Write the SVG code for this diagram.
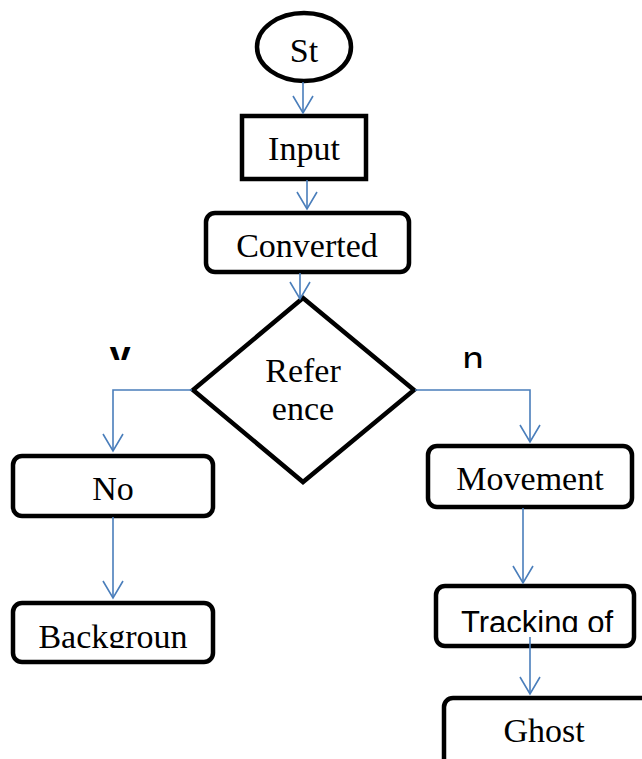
<svg xmlns="http://www.w3.org/2000/svg" width="642" height="759" viewBox="0 0 642 759">
<style>
.box{fill:#fff;stroke:#000;stroke-width:4.5}
.t{font-family:"Liberation Serif","Times New Roman",serif;font-size:34px;fill:#000;text-anchor:middle}
.s{font-family:"Liberation Sans",Arial,sans-serif;font-size:31px;fill:#000;text-anchor:middle}
.l{font-family:"Liberation Sans",Arial,sans-serif;font-size:38px;fill:#000;text-anchor:middle}
.c{fill:none;stroke:#4a7ebb;stroke-width:1.6}
</style>
<defs>
<marker id="ah" markerUnits="userSpaceOnUse" markerWidth="24" markerHeight="24" viewBox="-20 -12 22 24" refX="0" refY="0" orient="auto">
<path d="M -17 -10 L 0 0 L -17 10" fill="none" stroke="#4a7ebb" stroke-width="1.6"/>
</marker>
<clipPath id="cpBg"><rect x="0" y="600" width="240" height="48"/></clipPath>
<clipPath id="cpTr"><rect x="430" y="580" width="212" height="52"/></clipPath>
<clipPath id="cpY"><rect x="90" y="330" width="60" height="30"/></clipPath>
<clipPath id="cpN"><rect x="440" y="330" width="60" height="38"/></clipPath>
</defs>
<g id="start"><ellipse class="box" cx="304" cy="47" rx="47" ry="34"/><text class="t" x="304" y="62">St</text></g>
<g id="input"><rect class="box" x="242" y="116" width="124" height="63"/><text class="t" x="304" y="160">Input</text></g>
<g id="converted"><rect class="box" x="206" y="213" width="203" height="59" rx="9"/><text class="t" x="307" y="257">Converted</text></g>
<g id="reference"><polygon class="box" points="303,298 414,390 303,482 193,390"/><text class="t" x="303" y="382">Refer</text><text class="t" x="303" y="420">ence</text></g>
<g id="no"><rect class="box" x="13" y="456" width="200" height="60" rx="9"/><text class="t" x="113" y="500">No</text></g>
<g id="background"><rect class="box" x="13" y="603" width="200" height="59" rx="9"/><text class="t" x="113" y="648" clip-path="url(#cpBg)">Backgroun</text></g>
<g id="movement"><rect class="box" x="428" y="446" width="204" height="61" rx="9"/><text class="t" x="530" y="490">Movement</text></g>
<g id="tracking"><rect class="box" x="436" y="586" width="198" height="60" rx="9"/><text class="s" x="537" y="633" clip-path="url(#cpTr)">Tracking of</text></g>
<g id="ghost"><rect class="box" x="444" y="698" width="210" height="70" rx="9"/><text class="t" x="544" y="742">Ghost</text></g>
<g id="labels">
<text class="l" x="120" y="368" clip-path="url(#cpY)" style="font-weight:bold">y</text>
<text class="l" x="473" y="373" clip-path="url(#cpN)">n</text>
</g>
<g id="connectors">
<path class="c" d="M303 82 V113" marker-end="url(#ah)"/>
<path class="c" d="M307 180 V209" marker-end="url(#ah)"/>
<path class="c" d="M300 273 V299" marker-end="url(#ah)"/>
<path class="c" d="M192 390 H113 V451" marker-end="url(#ah)"/>
<path class="c" d="M415 390 H530 V442" marker-end="url(#ah)"/>
<path class="c" d="M113 517 V598" marker-end="url(#ah)"/>
<path class="c" d="M523 508 V583" marker-end="url(#ah)"/>
<path class="c" d="M530 637 V694" marker-end="url(#ah)"/>
</g>
</svg>
